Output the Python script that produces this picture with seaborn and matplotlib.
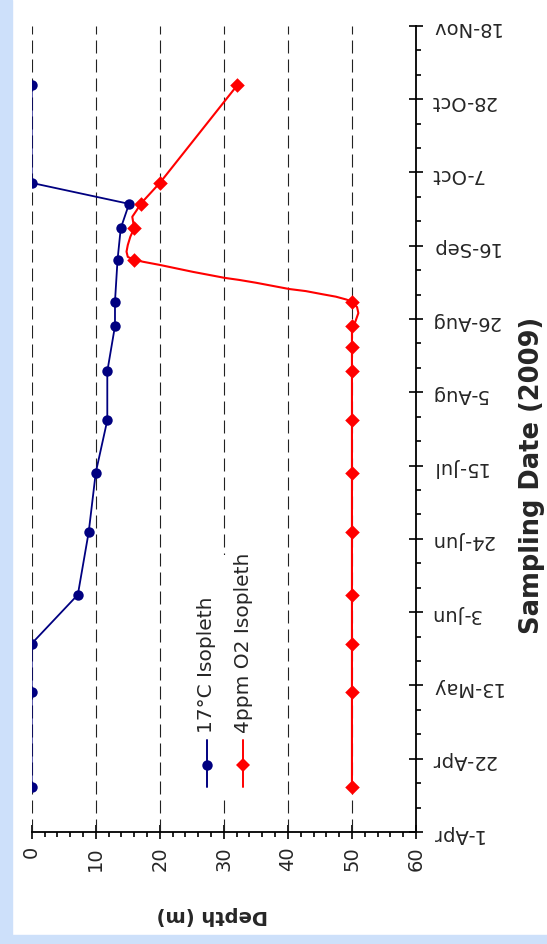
import pandas as pd
import matplotlib.pyplot as plt
import matplotlib.dates as mdates
from matplotlib.patches import Rectangle
from matplotlib.lines import Line2D
from matplotlib.ticker import MultipleLocator, FixedLocator
import seaborn as sns

# data
start = pd.Timestamp('2009-04-01')
end = pd.Timestamp('2009-11-18')

temp_dates = ['2009-04-14', '2009-05-11', '2009-05-25', '2009-06-08', '2009-06-26',
              '2009-07-13', '2009-07-28', '2009-08-11', '2009-08-24', '2009-08-31',
              '2009-09-12', '2009-09-21', '2009-09-28', '2009-10-04', '2009-11-01']
temp_depth = [0, 0, 0, 7.2, 8.9, 10.0, 11.8, 11.8, 13.0, 13.0, 13.4, 13.9, 15.2, 0, 0]

o2_dates = ['2009-04-14', '2009-05-11', '2009-05-25', '2009-06-08', '2009-06-26',
            '2009-07-13', '2009-07-28', '2009-08-11', '2009-08-18', '2009-08-24',
            '2009-08-31', '2009-09-12', '2009-09-21', '2009-09-28', '2009-10-04', '2009-11-01']
o2_depth = [50, 50, 50, 50, 50, 50, 50, 50, 50, 50, 50, 16.0, 16.0, 17.0, 20.0, 32.1]

# the red line itself (days after 1-Apr, depth)
o2_line_days = [13, 40, 54, 68, 86, 103, 118, 132, 139, 145, 146.1, 148.7, 150.4, 152,
                152.6, 153.4, 154.1, 155.0, 155.6, 156.5, 157.4, 158.2, 158.8, 159.6,
                160.5, 161.5, 162.5, 163.4, 164, 164.8, 166.3, 168.2, 170.6, 173,
                176.3, 178.2, 180, 186, 214]
o2_line_depth = [50, 50, 50, 50, 50, 50, 50, 50, 50, 50, 50.5, 51.0, 50.8, 50,
                 49.1, 47.5, 45.4, 42.8, 40.2, 37.6, 35.0, 32.4, 30.1, 27.8,
                 25.2, 22.6, 20.0, 17.4, 16.0, 15.0, 14.8, 15.0, 15.4, 16.0,
                 15.7, 16.4, 17.0, 20.0, 32.1]

temp = pd.DataFrame({'date': pd.to_datetime(temp_dates), 'depth': temp_depth})
o2 = pd.DataFrame({'date': pd.to_datetime(o2_dates), 'depth': o2_depth})
o2_line = pd.DataFrame({'date': start + pd.to_timedelta(o2_line_days, unit='D'),
                        'depth': o2_line_depth})

navy = '#000080'
red = '#ff0000'

sns.set_style('white')
plt.rcParams['font.family'] = ['DejaVu Sans']

fig = plt.figure(figsize=(5.47, 9.44), dpi=100)
# light blue frame strips
fig.patches.append(Rectangle((0, 0), 12 / 547, 1, transform=fig.transFigure,
                             color='#cde0fa', zorder=0))
fig.patches.append(Rectangle((0, 0), 1, 9 / 944, transform=fig.transFigure,
                             color='#cde0fa', zorder=0))

ax = fig.add_axes([0.058, 0.1186, 0.7025, 0.854])

# dashed gridlines
for g in range(0, 60, 10):
    ax.axvline(g, color='#222222', lw=0.8, ls=(0, (11.7, 5.4)), zorder=1)

sns.lineplot(data=temp, x='depth', y='date', sort=False, estimator=None,
             color=navy, lw=1.3, marker='o', markersize=7.5, markeredgewidth=0,
             ax=ax, zorder=4)
sns.lineplot(data=o2_line, x='depth', y='date', sort=False, estimator=None,
             color=red, lw=1.5, ax=ax, zorder=3)
sns.scatterplot(data=o2, x='depth', y='date', color=red, marker='D', s=55,
                linewidth=0, ax=ax, zorder=5)

ax.set_xlim(0, 60)
ax.set_ylim(start, end)

ax.xaxis.set_major_locator(MultipleLocator(10))
ax.xaxis.set_minor_locator(MultipleLocator(2))
major_dates = pd.date_range(start, end, freq='21D')
minor_dates = pd.date_range(start, end, freq='7D')
ax.yaxis.set_major_locator(FixedLocator(mdates.date2num(major_dates)))
ax.yaxis.set_minor_locator(FixedLocator(mdates.date2num(minor_dates)))
ax.yaxis.set_major_formatter(mdates.DateFormatter('%-d-%b'))

ax.yaxis.tick_right()
ax.yaxis.set_label_position('right')
for s in ['left', 'top']:
    ax.spines[s].set_visible(False)
for s in ['right', 'bottom']:
    ax.spines[s].set_color('black')
    ax.spines[s].set_linewidth(1.3)

ax.tick_params(axis='both', which='major', direction='inout', length=10, width=1.2,
               labelsize=14, color='black', pad=5)
ax.tick_params(axis='both', which='minor', direction='out', length=3.6, width=1.2,
               color='black')
ax.tick_params(axis='y', which='both', left=False, right=True)
ax.tick_params(axis='x', which='both', bottom=True, top=False)
ax.tick_params(axis='y', labelrotation=180)
ax.tick_params(axis='x', labelrotation=90)

ax.set_xlabel('Depth (m)', fontsize=14, fontweight='bold', rotation=180)
ax.xaxis.set_label_coords(0.469, -0.103)
ax.xaxis.label.set_va('center')
ax.set_ylabel('Sampling Date (2009)', fontsize=18.5, fontweight='bold', rotation=90)
ax.yaxis.set_label_coords(1.302, 0.443)
ax.yaxis.label.set_va('center')

# legend drawn rotated, on a white patch
ax.add_patch(Rectangle((0.412, 0.046), 0.19, 0.298, transform=ax.transAxes,
                       facecolor='white', edgecolor='none', zorder=2))
for xpos, col, mk, ms, label in [(0.456, navy, 'o', 7.5, '17°C Isopleth'),
                                 (0.55, red, 'D', 7, '4ppm O2 Isopleth')]:
    ax.add_line(Line2D([xpos, xpos], [0.056, 0.114], transform=ax.transAxes,
                       color=col, lw=1.4, zorder=6))
    ax.add_line(Line2D([xpos], [0.083], transform=ax.transAxes, color=col,
                       marker=mk, markersize=ms, markeredgewidth=0, zorder=6))
    ax.text(xpos, 0.123, label, transform=ax.transAxes, rotation=90,
            ha='center', va='bottom', fontsize=14.5, zorder=6)

fig.savefig('out.png', dpi=100)
